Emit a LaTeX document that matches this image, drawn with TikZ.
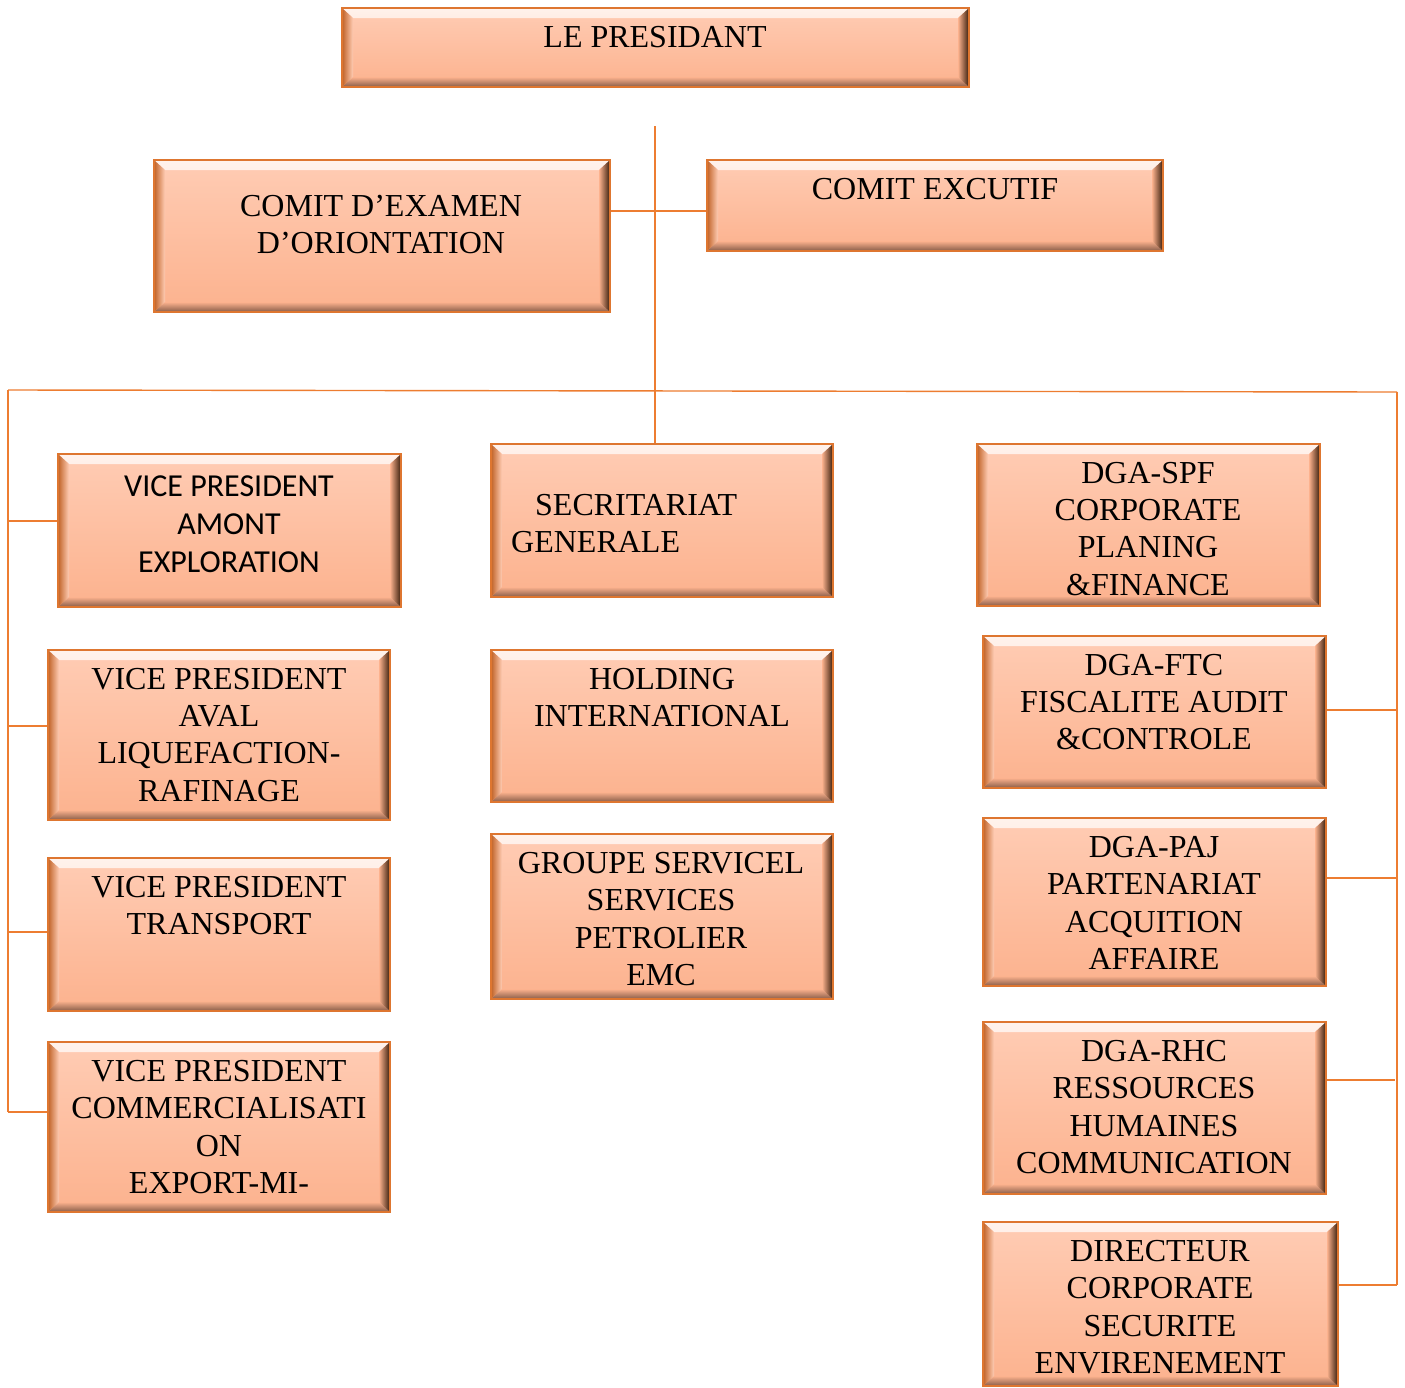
\documentclass[tikz,border=0pt]{standalone}
\usepackage{fontspec}
\setmainfont{Liberation Serif}
\newfontfamily\calibrifont{Carlito}

\definecolor{linkline}{RGB}{237,125,49}
\definecolor{boxedge}{RGB}{222,118,48}
\definecolor{peachtop}{RGB}{255,204,180}
\definecolor{peachbot}{RGB}{252,178,142}
\definecolor{bevdark}{RGB}{55,28,10}
\definecolor{bevlow}{RGB}{135,92,72}
\definecolor{bevleft}{RGB}{192,98,38}

\tikzset{
  orgbox/.style 2 args={draw=boxedge, line width=1.5pt, top color=peachtop, bottom color=peachbot,
    minimum width=#1, minimum height=#2, inner sep=0pt,
    path picture={
      \shade[top color=white!75!peachtop, bottom color=peachtop]
        (path picture bounding box.north west) -- (path picture bounding box.north east)
        -- ([xshift=-11pt,yshift=-10pt]path picture bounding box.north east)
        -- ([xshift=11pt,yshift=-10pt]path picture bounding box.north west) -- cycle;
      \shade[top color=peachbot, bottom color=bevlow]
        (path picture bounding box.south west) -- (path picture bounding box.south east)
        -- ([xshift=-11pt,yshift=10pt]path picture bounding box.south east)
        -- ([xshift=11pt,yshift=10pt]path picture bounding box.south west) -- cycle;
      \shade[left color=peachbot, right color=bevdark]
        (path picture bounding box.north east) -- (path picture bounding box.south east)
        -- ([xshift=-11pt,yshift=10pt]path picture bounding box.south east)
        -- ([xshift=-11pt,yshift=-10pt]path picture bounding box.north east) -- cycle;
      \shade[left color=bevleft, right color=peachtop]
        (path picture bounding box.north west) -- (path picture bounding box.south west)
        -- ([xshift=11pt,yshift=10pt]path picture bounding box.south west)
        -- ([xshift=11pt,yshift=-10pt]path picture bounding box.north west) -- cycle;
    }},
  lbl/.style={align=center, inner sep=0pt, anchor=north, font=\fontsize{32}{37.3}\selectfont},
  link/.style={draw=linkline, line width=1.4pt}
}

\begin{document}
\begin{tikzpicture}[x=1pt,y=-1pt]
\useasboundingbox (0,0) rectangle (1405,1387);

% boxes
\node[orgbox={627pt}{79pt}] at (655.5,47.5) (pres) {};
\node[orgbox={456pt}{152pt}] at (382,236) (cex) {};
\node[orgbox={456pt}{91pt}] at (935,205.5) (cexe) {};

\node[orgbox={343pt}{153pt}] at (229.5,530.5) (vp1) {};
\node[orgbox={342pt}{170pt}] at (219,735) (vp2) {};
\node[orgbox={342pt}{153pt}] at (219,934.5) (vp3) {};
\node[orgbox={342pt}{170pt}] at (219,1127) (vp4) {};

\node[orgbox={342pt}{153pt}] at (662,520.5) (sec) {};
\node[orgbox={342pt}{152pt}] at (662,726) (hold) {};
\node[orgbox={342pt}{165pt}] at (662,916.5) (grp) {};

\node[orgbox={343pt}{162pt}] at (1148.5,525) (spf) {};
\node[orgbox={343pt}{152pt}] at (1154.5,712) (ftc) {};
\node[orgbox={343pt}{168pt}] at (1154.5,902) (paj) {};
\node[orgbox={343pt}{172pt}] at (1154.5,1108) (rhc) {};
\node[orgbox={355pt}{164pt}] at (1160.5,1304) (dir) {};

% texts
\node[lbl] at (655,26) (pres-t) {LE PRESIDANT};
\node[lbl] at (381,195) (cex-t) {COMIT D’EXAMEN\\D’ORIONTATION};
\node[lbl] at (935,178) (cexe-t) {COMIT EXCUTIF};

\node[lbl,font=\calibrifont\fontsize{32}{38}\selectfont] at (229,476) (vp1-t) {VICE PRESIDENT\\AMONT\\EXPLORATION};
\node[lbl] at (219,668) (vp2-t) {VICE PRESIDENT\\AVAL\\LIQUEFACTION-\\RAFINAGE};
\node[lbl] at (219,876) (vp3-t) {VICE PRESIDENT\\TRANSPORT};
\node[lbl] at (219,1060) (vp4-t) {VICE PRESIDENT\\COMMERCIALISATI\\ON\\EXPORT-MI-};

\node[lbl,align=left,anchor=north west] at (511,494) (sec-t) {\hspace*{24pt}SECRITARIAT\\GENERALE};
\node[lbl] at (662,668) (hold-t) {HOLDING\\INTERNATIONAL};
\node[lbl] at (661,852) (grp-t) {GROUPE SERVICEL\\SERVICES\\PETROLIER\\EMC};

\node[lbl] at (1148,462) (spf-t) {DGA-SPF\\CORPORATE\\PLANING\\\&FINANCE};
\node[lbl] at (1154,654) (ftc-t) {DGA-FTC\\FISCALITE AUDIT\\\&CONTROLE};
\node[lbl] at (1154,836) (paj-t) {DGA-PAJ\\PARTENARIAT\\ACQUITION\\AFFAIRE};
\node[lbl] at (1154,1040) (rhc-t) {DGA-RHC\\RESSOURCES\\HUMAINES\\COMMUNICATION};
\node[lbl] at (1160,1240) (dir-t) {DIRECTEUR\\CORPORATE\\SECURITE\\ENVIRENEMENT};

% connectors
\coordinate (trunk) at (655,126);
\coordinate (jc) at (655,211);
\coordinate (bl) at (8,390);
\coordinate (br) at (1397,392);
\coordinate (l1) at (8,521);
\coordinate (l2) at (8,726);
\coordinate (l3) at (8,932);
\coordinate (l4) at (8,1112);
\coordinate (r2) at (1397,710);
\coordinate (r3) at (1397,878);
\coordinate (r4) at (1395,1080);
\coordinate (r5) at (1397,1285);

\draw[link] (trunk) -- (trunk |- sec.north);
\draw[link] (cex.east |- jc) -- (cexe.west |- jc);
\draw[link] (bl) -- (br);
\draw[link] (bl) -- (l4);
\draw[link] (br) -- (r5);
\foreach \p/\b in {l1/vp1,l2/vp2,l3/vp3,l4/vp4}
  \draw[link] (\p) -- (\b.west |- \p);
\foreach \p/\b in {r2/ftc,r3/paj,r4/rhc,r5/dir}
  \draw[link] (\b.east |- \p) -- (\p);
\end{tikzpicture}
\end{document}
